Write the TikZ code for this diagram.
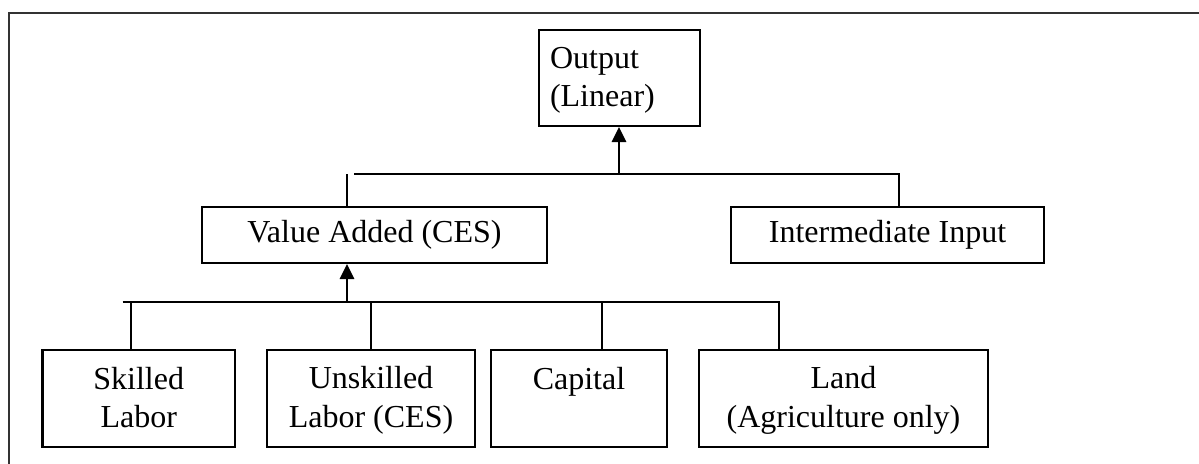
\documentclass[tikz,border=0pt]{standalone}
\usepackage{fontspec}
\setmainfont{Liberation Serif}
\usetikzlibrary{arrows.meta}
\newcommand\mystrut{\rule[-2.5pt]{0pt}{12.3pt}}
\begin{document}
\begin{tikzpicture}[x=0.375pt,y=-0.375pt,
  box/.style={draw, line width=0.8pt, inner sep=0pt, align=center,
    font=\fontsize{12pt}{14.4pt}\selectfont},
  link/.style={line width=0.8pt},
  arr/.style={line width=0.8pt, -{Triangle[width=5.4pt,length=5.6pt]}},
  frame/.style={line width=0.9pt, draw=black!80}]
\clip (0,0) rectangle (1199,463);
\fill[white] (0,0) rectangle (1199,463);
\draw[frame] (9,480) -- (9,13) -- (1210,13);
% nodes
\node[box, minimum width=60.4pt, minimum height=36pt, text width=52.1pt,
  inner xsep=4.15pt, align=left] (out) at (619.5,78) {\mystrut Output\\\mystrut(Linear)};
\node[box, minimum width=129.4pt, minimum height=21pt] (va) at (374.5,235) {Value Added (CES)};
\node[box, minimum width=117.4pt, minimum height=21pt] (ii) at (887.5,235) {Intermediate Input};
\node[box, minimum width=72.2pt, minimum height=36.4pt] (sk) at (138.75,398.5) {\mystrut Skilled\\\mystrut Labor};
\node[box, minimum width=78pt, minimum height=36.4pt] (un) at (371,398.5) {\mystrut Unskilled\\\mystrut Labor (CES)};
\node[box, minimum width=66pt, minimum height=36.4pt] (cap) at (579,398.5) {\mystrut Capital\\\mystrut};
\node[box, minimum width=108.4pt, minimum height=36.4pt] (land) at (843.5,398.5) {\mystrut Land\\\mystrut(Agriculture only)};
% upper tree
\coordinate (tbL) at (354,174);
\coordinate (tbR) at (899,174);
\coordinate (vaT) at (347,174);
\coordinate (outB) at (619,174);
\draw[link] (tbL) -- (tbR) -- (tbR |- ii.north);
\draw[arr] (outB) -- (outB |- out.south);
\draw[link] (vaT) -- (vaT |- va.north);
% lower tree
\coordinate (lbL) at (122.5,302);
\coordinate (lbR) at (779,302);
\coordinate (vaB) at (347,302);
\coordinate (skT) at (131,302);
\coordinate (capT) at (602,302);
\draw[link] (lbL) -- (lbR) -- (lbR |- land.north);
\draw[arr] (vaB) -- (vaB |- va.south);
\draw[link] (skT) -- (skT |- sk.north);
\draw[link] (un.north |- lbL) -- (un.north);
\draw[link] (capT) -- (capT |- cap.north);
\end{tikzpicture}
\end{document}
